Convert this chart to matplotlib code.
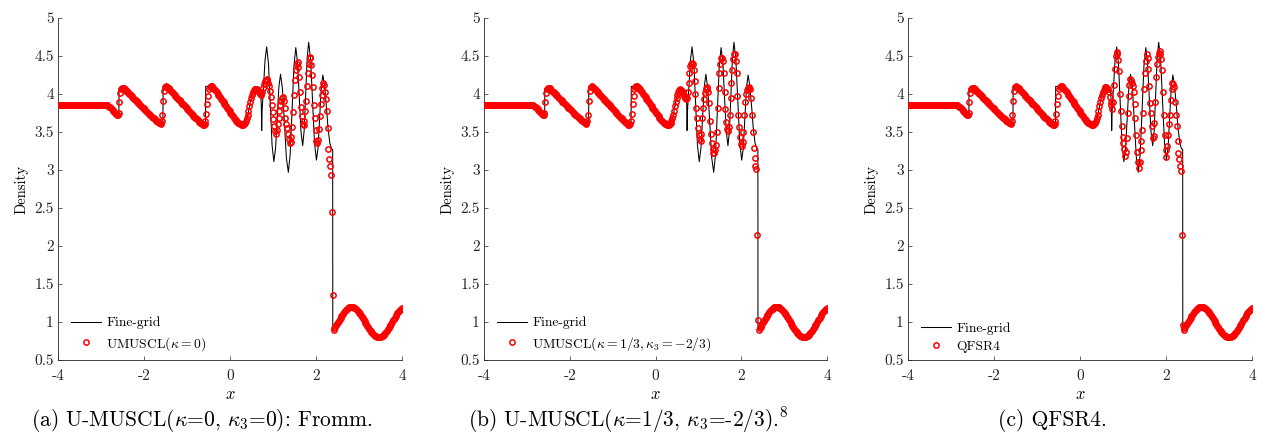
import numpy as np
import matplotlib
matplotlib.use("Agg")
import matplotlib.pyplot as plt
from matplotlib.lines import Line2D

plt.rcParams.update({
    "font.family": "serif",
    "font.serif": ["cmr10"],
    "mathtext.fontset": "cm",
    "axes.unicode_minus": False,
    "axes.formatter.use_mathtext": True,
})

# ---------------------------------------------------------------------------
# Coarse-grid cells (400 cells on [-4, 4])
# ---------------------------------------------------------------------------
x_min, x_max, n_cells = -3.99, 3.99, 400

# Undisturbed post-shock left state
rho_left_state = [3.857] * 56

# Entropy-wave / shocklet train, x = -2.87 ... 0.57 (same on all three solvers)
rho_shocklets = [
    # smooth dip ahead of the first shocklet
    3.855, 3.85, 3.845, 3.835, 3.825, 3.81, 3.80, 3.79, 3.775, 3.765,
    3.75, 3.74, 3.73, 3.72,
    # first shocklet
    3.75, 3.90, 4.01, 4.06, 4.08,
    # first ramp
    4.08, 4.075, 4.065, 4.055, 4.04, 4.03, 4.02, 4.005, 3.995, 3.985,
    3.97, 3.96, 3.95, 3.94, 3.925, 3.915, 3.90, 3.89, 3.88, 3.87,
    3.86, 3.845, 3.835, 3.82, 3.81, 3.80, 3.79, 3.775, 3.765, 3.755,
    3.74, 3.73, 3.72, 3.71, 3.70, 3.69, 3.68, 3.67, 3.66, 3.65,
    3.64, 3.63, 3.62, 3.615, 3.61,
    # second shocklet
    3.64, 3.72, 3.91, 4.04, 4.09,
    # second ramp
    4.10, 4.095, 4.085, 4.075, 4.06, 4.05, 4.04, 4.025, 4.015, 4.00,
    3.99, 3.975, 3.965, 3.95, 3.94, 3.925, 3.915, 3.90, 3.89, 3.875,
    3.865, 3.85, 3.84, 3.825, 3.815, 3.80, 3.79, 3.775, 3.765, 3.75,
    3.74, 3.725, 3.715, 3.70, 3.69, 3.68, 3.67, 3.655, 3.645, 3.635,
    3.625, 3.615, 3.605, 3.595, 3.59,
    # third shocklet
    3.60, 3.65, 3.74, 3.87, 3.98, 4.06, 4.09, 4.10,
    # third ramp
    4.10, 4.095, 4.085, 4.07, 4.055, 4.04, 4.02, 4.005, 3.99, 3.97,
    3.955, 3.94, 3.92, 3.905, 3.89, 3.87, 3.855, 3.84, 3.82, 3.805,
    3.79, 3.77, 3.755, 3.74, 3.72, 3.705, 3.69, 3.675, 3.66, 3.645,
    3.635, 3.625, 3.615, 3.605, 3.60, 3.595, 3.59, 3.59,
    # compression towards the oscillatory zone
    3.60, 3.62, 3.65, 3.69, 3.73, 3.78, 3.84, 3.90, 3.95, 3.99,
    4.03, 4.05, 4.06,
]

# High-frequency zone, x = 0.59 ... 2.39, one list per scheme
rho_osc_fromm = [
    4.07, 4.07, 4.06, 4.04, 4.02, 4.00, 3.99, 4.00, 4.03, 4.08,
    4.13, 4.17, 4.19, 4.20, 4.18, 4.14, 4.10, 4.04, 3.96, 3.86,
    3.76, 3.67, 3.58, 3.51, 3.48, 3.52, 3.60, 3.68, 3.77, 3.85,
    3.91, 3.95, 3.96, 3.91, 3.81, 3.69, 3.61, 3.55, 3.48, 3.41,
    3.35, 3.37, 3.44, 3.56, 3.76, 3.99, 4.18, 4.31, 4.39, 4.42,
    4.36, 4.23, 4.03, 3.83, 3.71, 3.61, 3.59, 3.65, 3.77, 3.91,
    4.10, 4.28, 4.40, 4.49, 4.47, 4.38, 4.25, 4.09, 3.86, 3.68,
    3.52, 3.38, 3.35, 3.40, 3.54, 3.71, 3.87, 3.99, 4.08, 4.14,
    4.12, 4.03, 3.93, 3.78, 3.55, 3.28, 3.14, 3.05, 2.94, 2.45,
    1.35,
]
rho_osc_umuscl3 = [
    4.05, 4.04, 4.03, 4.01, 3.98, 3.95, 3.93, 3.95, 4.02, 4.14,
    4.28, 4.37, 4.40, 4.41, 4.39, 4.32, 4.17, 4.00, 3.82, 3.68,
    3.55, 3.46, 3.41, 3.38, 3.48, 3.68, 3.82, 3.93, 4.01, 4.06,
    4.09, 4.07, 4.02, 3.88, 3.65, 3.48, 3.36, 3.28, 3.23, 3.22,
    3.26, 3.33, 3.50, 3.82, 4.08, 4.28, 4.40, 4.47, 4.48, 4.43,
    4.28, 4.03, 3.80, 3.63, 3.54, 3.51, 3.56, 3.72, 3.95, 4.15,
    4.32, 4.46, 4.53, 4.53, 4.43, 4.28, 3.98, 3.73, 3.56, 3.43,
    3.34, 3.31, 3.37, 3.50, 3.72, 3.90, 4.00, 4.05, 4.08, 4.09,
    4.08, 4.06, 3.95, 3.72, 3.50, 3.29, 3.16, 3.05, 3.01, 2.15,
    1.03,
]
rho_osc_qfsr4 = [
    4.09, 4.09, 4.08, 4.06, 4.02, 3.96, 3.90, 3.85, 3.80, 3.90,
    4.12, 4.33, 4.50, 4.55, 4.53, 4.45, 4.30, 4.00, 3.78, 3.58,
    3.44, 3.35, 3.27, 3.18, 3.24, 3.42, 3.75, 3.98, 4.12, 4.20,
    4.19, 4.15, 4.10, 4.03, 3.87, 3.68, 3.46, 3.24, 3.11, 3.03,
    3.10, 3.26, 3.38, 3.53, 3.75, 4.06, 4.27, 4.43, 4.52, 4.47,
    4.33, 4.10, 3.88, 3.75, 3.58, 3.42, 3.45, 3.62, 3.90, 4.22,
    4.40, 4.49, 4.54, 4.57, 4.52, 4.46, 4.32, 4.03, 3.72, 3.46,
    3.26, 3.17, 3.32, 3.46, 3.60, 3.72, 3.92, 4.06, 4.14, 4.13,
    4.09, 3.90, 3.72, 3.58, 3.38, 3.22, 3.15, 3.05, 2.99, 2.15,
    0.96,
]

# Quiescent pre-shock density, x = 2.41 ... 3.99
rho_preshock = [
    0.901, 0.919, 0.938, 0.957, 0.977, 0.997, 1.017, 1.037, 1.056, 1.075,
    1.093, 1.110, 1.126, 1.141, 1.155, 1.167, 1.177, 1.185, 1.192, 1.197,
    1.199, 1.200, 1.199, 1.195, 1.190, 1.183, 1.174, 1.164, 1.151, 1.137,
    1.122, 1.106, 1.088, 1.070, 1.051, 1.031, 1.012, 0.992, 0.972, 0.952,
    0.933, 0.914, 0.897, 0.880, 0.865, 0.851, 0.838, 0.827, 0.818, 0.811,
    0.805, 0.802, 0.800, 0.801, 0.803, 0.807, 0.814, 0.822, 0.832, 0.843,
    0.857, 0.871, 0.887, 0.904, 0.922, 0.941, 0.960, 0.980, 1.000, 1.020,
    1.040, 1.059, 1.078, 1.096, 1.113, 1.129, 1.144, 1.157, 1.168, 1.178,
]

# ---------------------------------------------------------------------------
# Fine-grid reference solution
# ---------------------------------------------------------------------------
fine_x = [
    -4.00, -2.88, -2.84, -2.80, -2.75, -2.70, -2.65, -2.60, -2.585, -2.58,
    -2.55, -2.50, -1.60, -1.56, -1.555, -1.50, -0.62, -0.57, -0.565, -0.45,
    -0.30, -0.10, 0.10, 0.25, 0.31, 0.35, 0.41, 0.47, 0.53, 0.58,
    0.63, 0.68, 0.715, 0.728, 0.737, 0.748, 0.78, 0.815, 0.853, 0.895,
    0.937, 0.978, 1.02, 1.059, 1.098, 1.136, 1.175, 1.22, 1.266, 1.311,
    1.357, 1.40, 1.444, 1.487, 1.53, 1.57, 1.61, 1.65, 1.69, 1.725,
    1.76, 1.795, 1.83, 1.875, 1.92, 1.965, 2.01, 2.048, 2.085, 2.123,
    2.16, 2.20, 2.24, 2.28, 2.32, 2.36, 2.388, 2.390, 2.50, 2.60,
    2.70, 2.80, 2.90, 3.00, 3.10, 3.20, 3.30, 3.40, 3.50, 3.60,
    3.70, 3.80, 3.90, 4.00,
]
fine_rho = [
    3.857, 3.857, 3.845, 3.83, 3.795, 3.765, 3.74, 3.72, 3.715, 4.07,
    4.085, 4.08, 3.61, 3.60, 4.10, 4.10, 3.59, 3.585, 4.10, 4.10,
    4.02, 3.87, 3.72, 3.62, 3.59, 3.61, 3.71, 3.89, 4.02, 4.07,
    4.07, 4.03, 4.01, 3.85, 3.52, 3.80, 4.10, 4.45, 4.62, 4.40,
    3.865, 3.33, 3.11, 3.28, 3.685, 4.09, 4.26, 4.07, 3.615, 3.16,
    2.97, 3.21, 3.79, 4.37, 4.61, 4.42, 3.965, 3.51, 3.32, 3.52,
    4.00, 4.48, 4.68, 4.45, 3.905, 3.36, 3.13, 3.29, 3.69, 4.09,
    4.25, 4.10, 3.85, 3.55, 3.36, 3.28, 3.27, 0.893, 0.987, 1.084,
    1.161, 1.198, 1.187, 1.130, 1.041, 0.942, 0.858, 0.808, 0.805, 0.850,
    0.931, 1.030, 1.121, 1.183,
]

scheme_labels = [
    r"UMUSCL($\kappa = 0$)",
    r"UMUSCL($\kappa = 1/3, \kappa_3 = -2/3$)",
    "QFSR4",
]
captions = [
    r"(a) U-MUSCL($\kappa$=0, $\kappa_3$=0): Fromm.",
    r"(b) U-MUSCL($\kappa$=1/3, $\kappa_3$=-2/3).$^8$",
    "(c) QFSR4.",
]
x_ticks = [-4, -2, 0, 2, 4]
x_tick_labels = ["-4", "-2", "0", "2", "4"]
y_ticks = [0.5, 1, 1.5, 2, 2.5, 3, 3.5, 4, 4.5, 5]
y_tick_labels = ["0.5", "1", "1.5", "2", "2.5", "3", "3.5", "4", "4.5", "5"]

x_cells = np.linspace(x_min, x_max, n_cells)
schemes = [
    rho_left_state + rho_shocklets + osc + rho_preshock
    for osc in (rho_osc_fromm, rho_osc_umuscl3, rho_osc_qfsr4)
]
for rho in schemes:
    assert len(rho) == n_cells

# ---------------------------------------------------------------------------
# Figure
# ---------------------------------------------------------------------------
W, H = 1262, 436
fig = plt.figure(figsize=(W / 100, H / 100), dpi=100)

panel_px = [(58, 402), (484, 827), (908, 1252)]
top_px, bottom_px = 18, 360
caption_cx = [202, 628, 1052]

marker_style = dict(linestyle="none", marker="o", ms=3.8, mew=1.1,
                    mfc="none", mec="red")

for k, ((l, r), rho) in enumerate(zip(panel_px, schemes)):
    ax = fig.add_axes([l / W, 1 - bottom_px / H, (r - l) / W,
                       (bottom_px - top_px) / H])
    ax.plot(fine_x, fine_rho, color="black", lw=0.75, zorder=2)
    ax.plot(x_cells, rho, zorder=3, **marker_style)

    ax.set_xlim(-4, 4)
    ax.set_ylim(0.5, 5)
    ax.set_xticks(x_ticks)
    ax.set_xticklabels(x_tick_labels)
    ax.set_yticks(y_ticks)
    ax.set_yticklabels(y_tick_labels)
    for side in ("top", "right"):
        ax.spines[side].set_visible(False)
    for side in ("left", "bottom"):
        ax.spines[side].set_color("#262626")
        ax.spines[side].set_linewidth(0.6)
    ax.tick_params(direction="in", length=3, width=0.5, colors="#262626",
                   labelsize=11)
    ax.tick_params(axis="x", pad=7)
    ax.tick_params(axis="y", pad=3)
    ax.set_xlabel("$x$", fontsize=12, labelpad=2)
    ax.set_ylabel("Density", fontsize=10.5, labelpad=4)

    handles = [
        Line2D([], [], color="black", lw=0.75),
        Line2D([], [], **marker_style),
    ]
    ax.legend(handles, ["Fine-grid", scheme_labels[k]], loc="lower left",
              bbox_to_anchor=(0.01, -0.006), frameon=False, fontsize=9.8,
              handlelength=2.2, handletextpad=0.4, labelspacing=0.4,
              borderpad=0.2, numpoints=1)

    fig.text(caption_cx[k] / W, 1 - 420 / H, captions[k], ha="center",
             va="center", fontsize=15.5)

fig.savefig("out.png", dpi=100)
